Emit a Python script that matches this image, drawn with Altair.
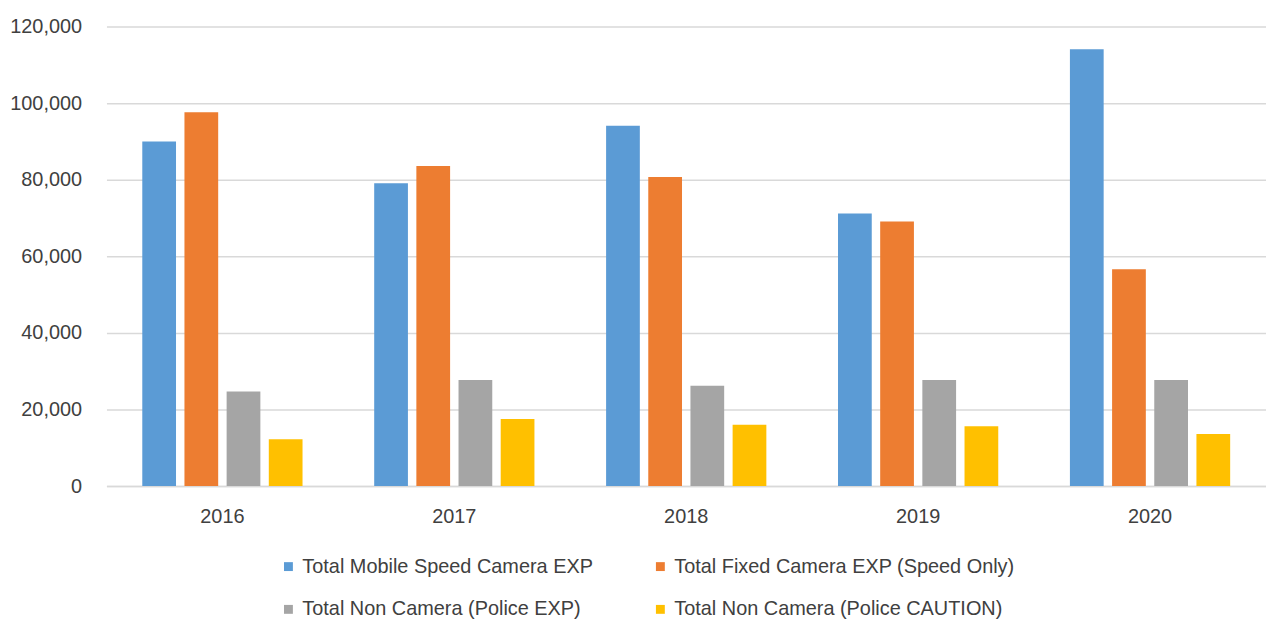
import altair as alt
import pandas as pd

years = ["2016", "2017", "2018", "2019", "2020"]
series = [
    "Total Mobile Speed Camera EXP",
    "Total Fixed Camera EXP (Speed Only)",
    "Total Non Camera (Police EXP)",
    "Total Non Camera (Police CAUTION)",
]
mobile = [90000, 79100, 94100, 71200, 114100]
fixed = [97600, 83600, 80700, 69100, 56600]
police_exp = [24700, 27700, 26200, 27700, 27700]
police_caution = [12200, 17500, 16000, 15600, 13600]
colors = ["#5B9BD5", "#ED7D31", "#A5A5A5", "#FFC000"]

rows = []
for s, vals in zip(series, [mobile, fixed, police_exp, police_caution]):
    for y, v in zip(years, vals):
        rows.append({"Year": y, "Series": s, "Value": v})
df = pd.DataFrame(rows)

FONT = "Liberation Sans"

chart = (
    alt.Chart(df)
    .mark_bar()
    .encode(
        x=alt.X(
            "Year:N",
            sort=years,
            title=None,
            scale=alt.Scale(paddingInner=0.309, paddingOuter=0.1545),
            axis=alt.Axis(
                labelAngle=0,
                ticks=False,
                domain=True,
                domainColor="#D9D9D9",
                domainWidth=1.5,
                grid=False,
                labelFontSize=20,
                labelFont=FONT,
                labelColor="#404040",
                labelPadding=21,
            ),
        ),
        xOffset=alt.XOffset(
            "Series:N",
            sort=series,
            scale=alt.Scale(paddingInner=0.2, paddingOuter=0),
        ),
        y=alt.Y(
            "Value:Q",
            title=None,
            scale=alt.Scale(domain=[0, 120000]),
            axis=alt.Axis(
                values=[0, 20000, 40000, 60000, 80000, 100000, 120000],
                format=",.0f",
                ticks=False,
                domain=False,
                grid=True,
                gridColor="#D9D9D9",
                gridWidth=1.5,
                labelFontSize=20,
                labelFont=FONT,
                labelColor="#404040",
                labelPadding=25,
            ),
        ),
        color=alt.Color(
            "Series:N",
            sort=series,
            scale=alt.Scale(domain=series, range=colors),
            legend=alt.Legend(
                title=None,
                orient="none",
                legendX=173,
                legendY=533,
                columns=2,
                direction="horizontal",
                columnPadding=57,
                rowPadding=23,
                symbolType="square",
                symbolSize=80,
                symbolStrokeWidth=0,
                labelFontSize=20,
                labelFont=FONT,
                labelColor="#404040",
                labelOffset=4,
                labelLimit=500,
                padding=0,
            ),
        ),
    )
    .properties(
        width=1166,
        height=462,
        autosize=alt.AutoSizeParams(type="none"),
        padding={"left": 99, "top": 17, "right": 0, "bottom": 134},
    )
    .configure_view(stroke=None)
)

chart.save("out.html", embed_options={"renderer": "svg", "actions": False})
